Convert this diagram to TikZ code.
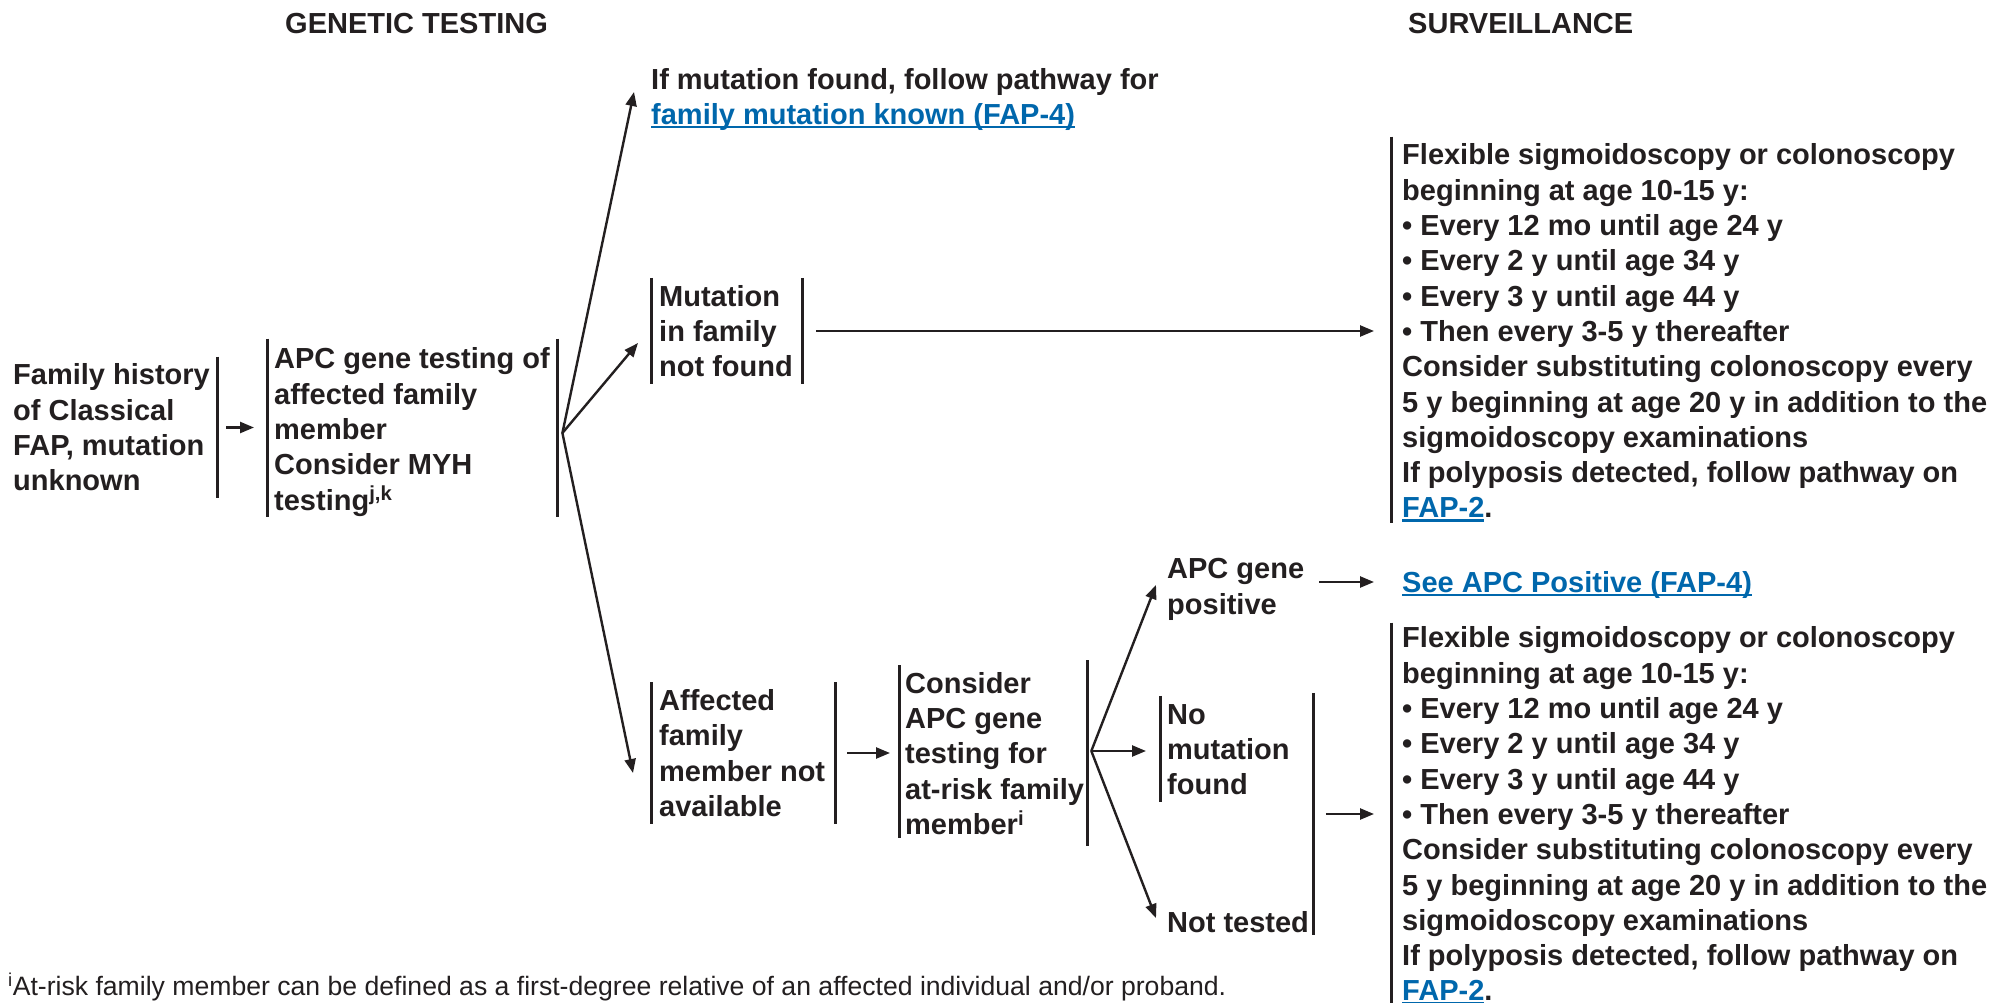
\documentclass[tikz,border=0pt]{standalone}
\usepackage{fontspec}
\setmainfont{Liberation Sans}
\usetikzlibrary{arrows.meta,calc}

\definecolor{ink}{RGB}{35,31,32}
\definecolor{linkblue}{RGB}{0,103,172}

% uniform line box: every text line is 35.3pt tall, centred on the cap height
\newcommand\lnstrut{\rule[-7.25pt]{0pt}{35.3pt}}
% underlined blue cross-reference
\newcommand\linktext[1]{{\color{linkblue}\setbox0\hbox{#1}\rlap{\rule[-3.9pt]{\wd0}{2.5pt}}\box0}}

\tikzset{
  txt/.style={anchor=west, inner sep=0pt, align=left, text=ink,
              font=\bfseries\fontsize{29}{35.3}\selectfont},
  foot/.style={anchor=west, inner sep=0pt, text=ink,
              font=\fontsize{26.6}{32}\selectfont},
  arr/.style={draw=ink, line width=2.4pt, -{Triangle[length=14pt,width=11pt]}},
  vbar/.style={draw=ink, line width=3pt},
}

\begin{document}
\begin{tikzpicture}[x=1pt,y=-1pt]
\useasboundingbox[fill=white] (0,0) rectangle (2007,1003);

% column headings
\node[txt] (hdrL) at (285,23) {\lnstrut GENETIC TESTING};
\node[txt] (hdrR) at (1408,23) {\lnstrut SURVEILLANCE};

% genetic testing pathway
\node[txt] (fam) at (13,427.5) {\lnstrut Family history\\\lnstrut of Classical\\\lnstrut FAP, mutation\\\lnstrut unknown};
\node[txt] (apc) at (274,429) {\lnstrut APC gene testing of\\\lnstrut affected family\\\lnstrut member\\\lnstrut Consider MYH\\\lnstrut testing\textsuperscript{j,k}};
\node[txt] (found) at (651,96.5) {\lnstrut If mutation found, follow pathway for\\\lnstrut\linktext{family mutation known (FAP-4)}};
\node[txt] (mut) at (659,331) {\lnstrut Mutation\\\lnstrut in family\\\lnstrut not found};
\node[txt] (aff) at (659,753) {\lnstrut Affected\\\lnstrut family\\\lnstrut member not\\\lnstrut available};
\node[txt] (cons) at (905,753.5) {\lnstrut Consider\\\lnstrut APC gene\\\lnstrut testing for\\\lnstrut at-risk family\\\lnstrut member\textsuperscript{i}};
\node[txt] (pos) at (1167,586) {\lnstrut APC gene\\\lnstrut positive};
\node[txt] (nomut) at (1167,749) {\lnstrut No\\\lnstrut mutation\\\lnstrut found};
\node[txt] (nott) at (1167,922) {\lnstrut Not tested};

% surveillance column
\node[txt] (see) at (1402,582) {\lnstrut\linktext{See APC Positive (FAP-4)}};
\node[txt] (surv1) at (1402,331) {\lnstrut Flexible sigmoidoscopy or colonoscopy\\
  \lnstrut beginning at age 10-15 y:\\
  \lnstrut • Every 12 mo until age 24 y\\
  \lnstrut • Every 2 y until age 34 y\\
  \lnstrut • Every 3 y until age 44 y\\
  \lnstrut • Then every 3-5 y thereafter\\
  \lnstrut Consider substituting colonoscopy every\\
  \lnstrut 5 y beginning at age 20 y in addition to the\\
  \lnstrut sigmoidoscopy examinations\\
  \lnstrut If polyposis detected, follow pathway on\\
  \lnstrut\linktext{FAP-2}.};
\node[txt] (surv2) at (1402,814) {\lnstrut Flexible sigmoidoscopy or colonoscopy\\
  \lnstrut beginning at age 10-15 y:\\
  \lnstrut • Every 12 mo until age 24 y\\
  \lnstrut • Every 2 y until age 34 y\\
  \lnstrut • Every 3 y until age 44 y\\
  \lnstrut • Then every 3-5 y thereafter\\
  \lnstrut Consider substituting colonoscopy every\\
  \lnstrut 5 y beginning at age 20 y in addition to the\\
  \lnstrut sigmoidoscopy examinations\\
  \lnstrut If polyposis detected, follow pathway on\\
  \lnstrut\linktext{FAP-2}.};

% footnote
\node[foot] (fn) at (8,987) {\textsuperscript{i}At-risk family member can be defined as a first-degree relative of an affected individual and/or proband.};

% bracket bars beside the boxes
\draw[vbar] ($(fam.north east)+(7,0)$) -- ($(fam.south east)+(7,0)$);
\draw[vbar] ($(apc.north west)+(-7,-2)$) -- ($(apc.south west)+(-7,0)$);
\draw[vbar] ($(apc.north east)+(7.5,-2)$) -- ($(apc.south east)+(7.5,0)$);
\draw[vbar] ($(mut.north west)+(-8,0)$) -- ($(mut.south west)+(-8,0)$);
\draw[vbar] ($(mut.north east)+(9.3,0)$) -- ($(mut.south east)+(9.3,0)$);
\draw[vbar] ($(aff.north west)+(-8,0)$) -- ($(aff.south west)+(-8,0)$);
\draw[vbar] ($(aff.north east)+(10,0)$) -- ($(aff.south east)+(10,0)$);
\draw[vbar] ($(cons.north west)+(-6,0)$) -- ($(cons.south west)+(-6,-4)$);
\draw[vbar] ($(cons.north east)+(3,-5)$) -- ($(cons.south east)+(3,4)$);
\draw[vbar] ($(nomut.north west)+(-7,0)$) -- ($(nomut.south west)+(-7,0)$);
\coordinate (rb) at ($(nomut.north east)+(24,-3)$);
\draw[vbar] (rb) -- ($(rb |- nott.south)+(0,-5)$);
\draw[vbar] ($(surv1.north west)+(-11,0)$) -- ($(surv1.south west)+(-11,-2)$);
\draw[vbar] ($(surv2.north west)+(-11,3)$) -- ($(surv2.south west)+(-11,0)$);

% connectors
\draw[arr] ($(fam.east)+(16,0)$) -- ($(apc.west |- fam.east)+(-20,0)$);
\coordinate (fanA) at ($(apc.east)+(12.5,4)$);
\draw[arr] (fanA) -- ($(found.west)+(-17,-4.5)$);
\draw[arr] (fanA) -- ($(mut.west)+(-21,12)$);
\draw[arr] (fanA) -- ($(aff.west)+(-26,20)$);
\draw[arr] ($(mut.east)+(23,0)$) -- ($(surv1.west |- mut.east)+(-28,0)$);
\draw[arr] ($(aff.east)+(22,0)$) -- ($(cons.west |- aff.east)+(-15,0)$);
\coordinate (fanB) at ($(cons.east)+(7,-2.5)$);
\draw[arr] (fanB) -- ($(pos.west)+(-11,-1)$);
\draw[arr] (fanB) -- ($(nomut.west)+(-21,2)$);
\draw[arr] (fanB) -- ($(nott.west)+(-11,-4)$);
\draw[arr] ($(pos.east |- see.west)+(15,0)$) -- ($(see.west)+(-28,0)$);
\draw[arr] ($(rb |- surv2.west)+(12,0)$) -- ($(surv2.west)+(-28,0)$);
\end{tikzpicture}
\end{document}
